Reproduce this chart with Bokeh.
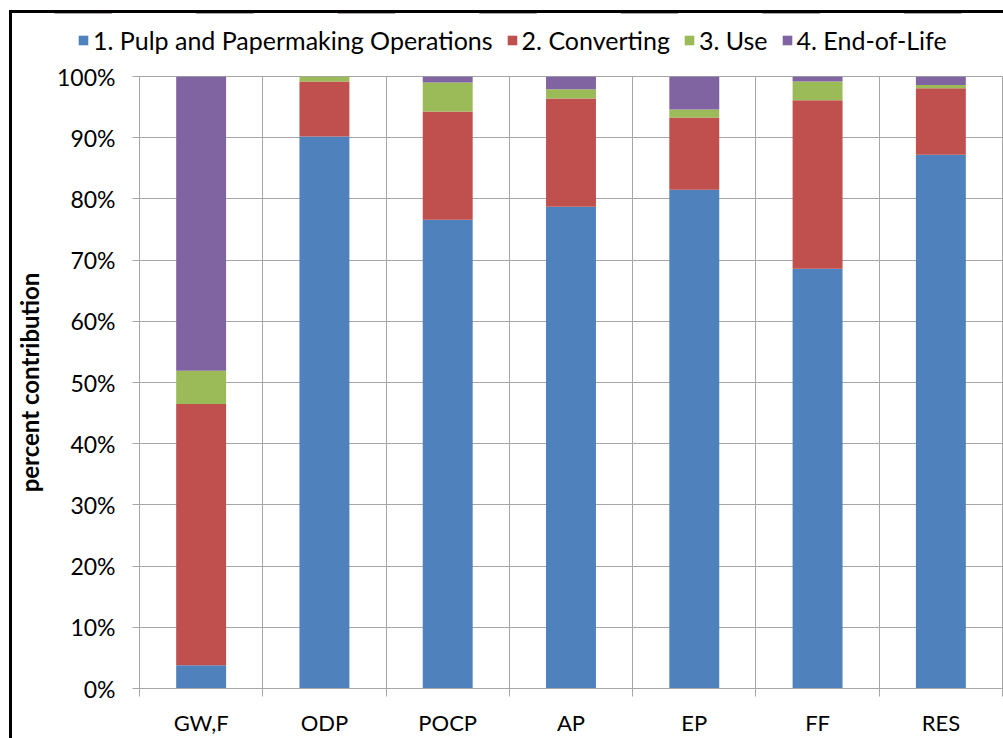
from bokeh.plotting import figure
from bokeh.layouts import column
from bokeh.models import (ColumnDataSource, Range1d, FixedTicker, PrintfTickFormatter,
                          Legend, LegendItem)
from bokeh.embed import file_html
from bokeh.resources import INLINE

categories = ["GW,F", "ODP", "POCP", "AP", "EP", "FF", "RES"]
series_names = ["1. Pulp and Papermaking Operations", "2. Converting", "3. Use", "4. End-of-Life"]
pulp = [3.8, 90.2, 76.6, 78.7, 81.5, 68.6, 87.2]
converting = [42.7, 9.0, 17.7, 17.7, 11.8, 27.5, 10.9]
use = [5.4, 0.8, 4.7, 1.5, 1.3, 3.1, 0.5]
end_of_life = [48.1, 0.0, 1.0, 2.1, 5.4, 0.8, 1.4]
colors = ["#4F81BD", "#C0504D", "#9BBB59", "#8064A2"]
y_ticks = [0, 10, 20, 30, 40, 50, 60, 70, 80, 90, 100]

FONT = "Lato"
GRID = "#a6a6a6"

x = [i + 0.5 for i in range(len(categories))]
keys = ["s1", "s2", "s3", "s4"]
source = ColumnDataSource(dict(x=x, s1=pulp, s2=converting, s3=use, s4=end_of_life))

# ---- main chart ----
p = figure(width=991, height=677, x_range=Range1d(0, len(categories)), y_range=Range1d(0, 100),
           output_backend="svg", toolbar_location=None, frame_align=False,
           min_border_left=126, min_border_top=15, min_border_right=1, min_border_bottom=48)

renderers = p.vbar_stack(keys, x="x", width=0.405, color=colors, line_color=None, source=source)

p.yaxis.ticker = FixedTicker(ticks=y_ticks)
p.yaxis.formatter = PrintfTickFormatter(format="%d%%")
p.yaxis.major_tick_out = 7
p.yaxis.major_tick_in = 0
p.yaxis.minor_tick_line_color = None
p.yaxis.major_tick_line_color = GRID
p.yaxis.axis_line_color = GRID
p.yaxis.major_label_standoff = 17
p.yaxis.major_label_text_font = FONT
p.yaxis.major_label_text_font_size = "23px"
p.yaxis.major_label_text_color = "black"
p.yaxis.axis_label = "percent contribution"
p.yaxis.axis_label_text_font = FONT
p.yaxis.axis_label_text_font_style = "bold"
p.yaxis.axis_label_text_font_size = "24px"
p.yaxis.axis_label_text_color = "black"
p.yaxis.axis_label_standoff = 10

p.xaxis.ticker = FixedTicker(ticks=x, minor_ticks=list(range(len(categories) + 1)))
p.xaxis.major_label_overrides = {xi: c for xi, c in zip(x, categories)}
p.xaxis.major_tick_line_color = None
p.xaxis.minor_tick_out = 8
p.xaxis.minor_tick_in = 0
p.xaxis.minor_tick_line_color = GRID
p.xaxis.axis_line_color = GRID
p.xaxis.major_label_standoff = 12
p.xaxis.major_label_text_font = FONT
p.xaxis.major_label_text_font_size = "22px"
p.xaxis.major_label_text_color = "black"

p.xgrid.ticker = FixedTicker(ticks=list(range(len(categories) + 1)))
p.ygrid.ticker = FixedTicker(ticks=y_ticks)
p.xgrid.grid_line_color = GRID
p.ygrid.grid_line_color = GRID
p.outline_line_color = GRID

# ---- legend strip above (same data, ranges chosen so bars stay out of view) ----
lg = figure(width=991, height=48, x_range=Range1d(0, len(categories)), y_range=Range1d(-2, -1),
            output_backend="svg", toolbar_location=None, frame_align=False,
            x_axis_location=None, y_axis_location=None, min_border=0)
lg.grid.visible = False
lg.outline_line_color = None
legend_renderers = lg.vbar_stack(keys, x="x", width=0.405, color=colors, line_color=None, source=source)
legend = Legend(items=[LegendItem(label=n, renderers=[r]) for n, r in zip(series_names, legend_renderers)],
                orientation="horizontal", location=(65, 6),
                glyph_width=12, glyph_height=12, label_standoff=4, spacing=13,
                padding=0, margin=0, border_line_alpha=0, background_fill_alpha=0,
                label_text_font=FONT, label_text_font_size="25px", label_text_color="black")
lg.add_layout(legend)

layout = column(lg, p, spacing=0,
                styles={"border-left": "3px solid black", "border-top": "3px solid black",
                        "margin-left": "9px", "margin-top": "10px"})

open("out.html", "w").write(file_html(layout, INLINE))
